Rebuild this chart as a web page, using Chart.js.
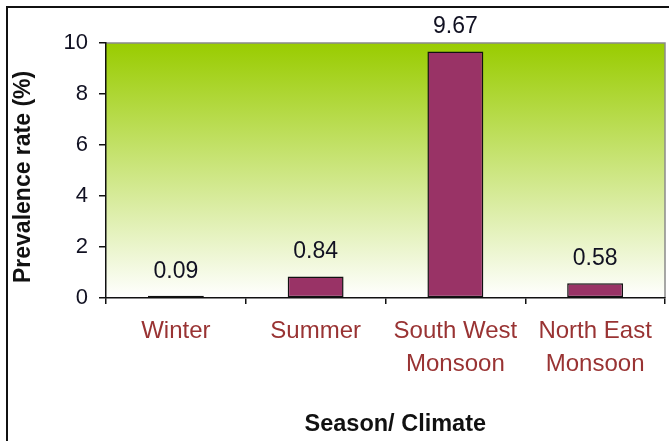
<!DOCTYPE html>
<html>
<head>
<meta charset="utf-8">
<script src="https://cdn.jsdelivr.net/npm/chart.js@4"></script>
<style>
  html, body { margin:0; padding:0; width:669px; height:441px; overflow:hidden; background:#fff; }
  #frame { position:absolute; left:6px; top:6px; width:720px; height:500px; border-left:2px solid #111; border-top:2px solid #111; box-sizing:border-box; }
  #c { position:absolute; left:0; top:0; }
</style>
</head>
<body>
<div id="frame"></div>
<canvas id="c" width="669" height="441"></canvas>
<script>
const categories = ['Winter', 'Summer', ['South West', 'Monsoon'], ['North East', 'Monsoon']];
const prevalence = [0.09, 0.84, 9.67, 0.58];
const valueLabels = ['0.09', '0.84', '9.67', '0.58'];
const yTicks = [0, 2, 4, 6, 8, 10];

const FONT = "'Liberation Sans', Arial, sans-serif";

const plotBg = {
  id: 'plotBg',
  beforeDraw(chart) {
    const {ctx, chartArea: a} = chart;
    const g = ctx.createLinearGradient(0, a.top, 0, a.bottom);
    g.addColorStop(0, '#99cc00');
    g.addColorStop(1, '#ffffff');
    ctx.save();
    ctx.fillStyle = g;
    ctx.fillRect(a.left, a.top, a.right - a.left, a.bottom - a.top);
    ctx.strokeStyle = '#8a8a8a';
    ctx.lineWidth = 1.5;
    ctx.beginPath();
    ctx.moveTo(a.left, a.top);
    ctx.lineTo(a.right, a.top);
    ctx.lineTo(a.right, a.bottom);
    ctx.stroke();
    ctx.restore();
  }
};

const valueLabelPlugin = {
  id: 'valueLabels',
  afterDatasetsDraw(chart) {
    const {ctx} = chart;
    const meta = chart.getDatasetMeta(0);
    ctx.save();
    ctx.font = "23px " + FONT;
    ctx.fillStyle = '#111122';
    ctx.textAlign = 'center';
    ctx.textBaseline = 'middle';
    meta.data.forEach((bar, i) => {
      ctx.fillText(valueLabels[i], bar.x, bar.y - 24.5);
    });
    ctx.restore();
  }
};

new Chart(document.getElementById('c'), {
  type: 'bar',
  data: {
    labels: categories,
    datasets: [{
      data: prevalence,
      backgroundColor: '#993366',
      borderColor: '#111111',
      borderWidth: 1.5,
      borderSkipped: false,
      barPercentage: 0.4,
      categoryPercentage: 1.0
    }]
  },
  options: {
    responsive: false,
    animation: false,
    devicePixelRatio: 1,
    layout: { padding: { top: 43, right: 4, left: 0, bottom: 0 } },
    plugins: { legend: { display: false }, tooltip: { enabled: false } },
    scales: {
      x: {
        offset: true,
        grid: { offset: true, drawOnChartArea: false, drawTicks: true, tickLength: 6, color: '#111', lineWidth: 1.5 },
        border: { display: true, color: '#111', width: 1.5 },
        ticks: { color: '#993333', font: { family: FONT, size: 24, lineHeight: 1.375 }, padding: 11, maxRotation: 0, autoSkip: false },
        title: { display: true, text: '   Season/ Climate', color: '#111', font: { family: FONT, size: 23.5, weight: 'bold', lineHeight: 1.2 }, padding: { top: 0, bottom: 2 } },
        afterFit(scale) { scale.height = 143; }
      },
      y: {
        min: 0, max: 10,
        afterBuildTicks(scale) { scale.ticks = yTicks.map(v => ({ value: v })); },
        grid: { drawOnChartArea: false, drawTicks: true, tickLength: 7, color: '#111', lineWidth: 1.5 },
        border: { display: true, color: '#111', width: 1.5 },
        ticks: { color: '#111122', font: { family: FONT, size: 22 }, padding: 11 },
        title: { display: true, text: 'Prevalence rate (%)  ', color: '#111', font: { family: FONT, size: 23, weight: 'bold', lineHeight: 1.2 }, padding: { top: 10, bottom: 0 } },
        afterFit(scale) { scale.width = 106; }
      }
    }
  },
  plugins: [plotBg, valueLabelPlugin]
});
</script>
</body>
</html>
